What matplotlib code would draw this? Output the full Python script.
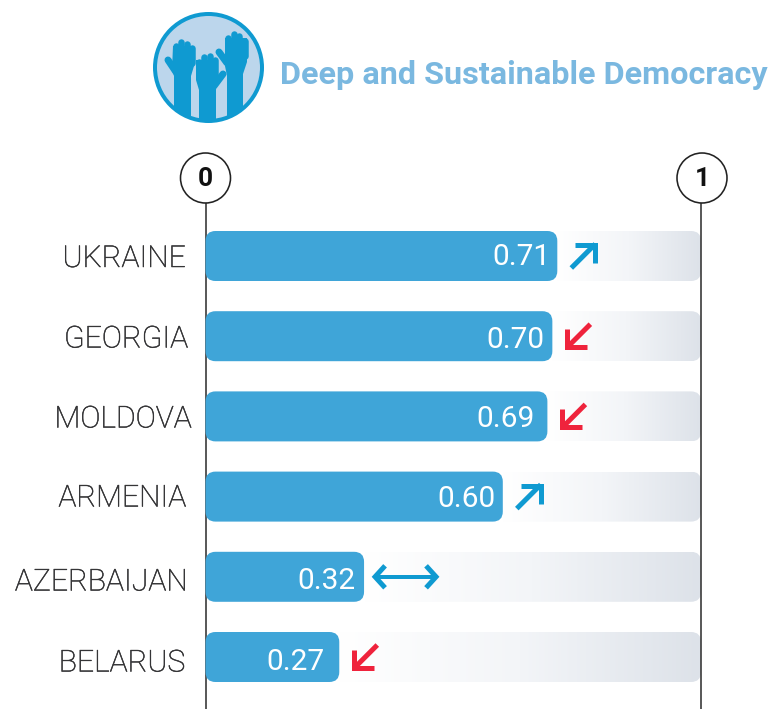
import numpy as np
import matplotlib
matplotlib.use('Agg')
import matplotlib.pyplot as plt
import matplotlib.patheffects as pe
from matplotlib.patches import FancyBboxPatch, Circle, Polygon
from matplotlib.colors import LinearSegmentedColormap

plt.rcParams['font.family'] = ['Roboto', 'DejaVu Sans']

# data
countries = ['UKRAINE', 'GEORGIA', 'MOLDOVA', 'ARMENIA', 'AZERBAIJAN', 'BELARUS']
scores = [0.71, 0.70, 0.69, 0.60, 0.32, 0.27]
score_labels = ['0.71', '0.70', '0.69', '0.60', '0.32', '0.27']
trends = ['up', 'down', 'down', 'up', 'same', 'down']
title = 'Deep and Sustainable Democracy'

W, H = 773, 709
X0, X1 = 205.5, 701.0     # pixel x of 0 and 1
Y0, DY = 256.0, 80.2      # pixel y of first row, row spacing
BAR_H = 50 / DY
BLUE = '#3fa5d8'
ARROW_BLUE = '#0f9ad1'
RED = '#ef233c'
px = 72 / 100  # one pixel in points

fig = plt.figure(figsize=(W / 100, H / 100), dpi=100)

# main axes: x is the score, y is the row number
ax = fig.add_axes([0, 0, 1, 1])
ax.axis('off')

# overlay in pixel coordinates for the icon and other decoration
ov = fig.add_axes([0, 0, 1, 1], zorder=5)
ov.set_xlim(0, W)
ov.set_ylim(H, 0)
ov.axis('off')
ov.patch.set_alpha(0)

unit_x = X1 - X0
aspect = unit_x / DY
rnd = 10 / unit_x
cmap = LinearSegmentedColormap.from_list('track', ['#ffffff', '#f3f5f8', '#dde2e9'])
grad = np.linspace(0, 1, 256).reshape(1, -1)

# the value labels do not sit the same way in every bar
value_dx = [-6.5, -7.5, -12.5, -7.5, -8.5, -14.5]
value_dy = [1.5, 3.5, 2.5, 2.5, 4.5, 4.5]

for i, v in enumerate(scores):
    track = FancyBboxPatch((0, i - BAR_H / 2), 1, BAR_H, boxstyle=f'round,pad=0,rounding_size={rnd}',
                           mutation_aspect=aspect, fc='none', ec='none')
    ax.add_patch(track)
    im = ax.imshow(grad, extent=[v, 1, i + BAR_H / 2, i - BAR_H / 2], aspect='auto', cmap=cmap,
                   interpolation='bilinear', zorder=1)
    im.set_clip_path(track)
    ax.add_patch(FancyBboxPatch((0, i - BAR_H / 2), v, BAR_H, boxstyle=f'round,pad=0,rounding_size={rnd}',
                                mutation_aspect=aspect, fc=BLUE, ec='none', zorder=3))
    ax.text(v + value_dx[i] / unit_x, i + value_dy[i] / DY, score_labels[i], color='white', fontsize=21.5,
            ha='right', va='center', fontweight='normal', zorder=4)

# scale lines
ax.plot([0, 0], [(201 - Y0) / DY, (H - Y0) / DY], color='#333333', lw=1.6 * px, zorder=2)
ax.plot([1, 1], [(203 - Y0) / DY, (H - Y0) / DY], color='#333333', lw=1.6 * px, zorder=2)

ax.set_xlim(-X0 / unit_x, (W - X0) / unit_x)
ax.set_ylim((H - Y0) / DY, -Y0 / DY)

# country labels
label_right = [186, 188.5, 192, 186.5, 188, 185.5]
label_y = [259, 339.5, 419.5, 498.5, 582.5, 663.5]
for name, xr, yy in zip(countries, label_right, label_y):
    ov.text(xr, yy, name, fontsize=21.7, color='#333335', ha='right', va='center', fontweight='light',
            path_effects=[pe.withStroke(linewidth=0.35, foreground='#333335')])

# circles at both ends of the scale
for xc, lab in zip([205.5, 702], ['0', '1']):
    ov.add_patch(Circle((xc, 178), 25, fc='white', ec='#222222', lw=1.6 * px))
    ov.text(xc, 179, lab, fontsize=19, fontweight='bold', color='#111111', ha='center', va='center')

# trend arrows
for i, (v, t) in enumerate(zip(scores, trends)):
    xe = X0 + v * unit_x
    yc = Y0 + i * DY
    if t == 'up':
        ov.plot([xe + 14, xe + 38], [yc + 12, yc - 12], color=ARROW_BLUE, lw=5 * px, solid_capstyle='butt')
        ov.plot([xe + 18, xe + 38, xe + 38], [yc - 11, yc - 11, yc + 7], color=ARROW_BLUE, lw=5 * px,
                solid_joinstyle='miter', solid_capstyle='butt')
    elif t == 'down':
        ov.plot([xe + 38, xe + 16], [yc - 12, yc + 10], color=RED, lw=5 * px, solid_capstyle='butt')
        ov.plot([xe + 15, xe + 15, xe + 35], [yc - 7, yc + 11, yc + 11], color=RED, lw=5 * px,
                solid_joinstyle='miter', solid_capstyle='butt')
    else:
        ov.plot([xe + 10, xe + 73], [yc, yc], color=ARROW_BLUE, lw=4 * px, solid_capstyle='butt')
        ov.plot([xe + 21, xe + 11, xe + 21], [yc - 11, yc, yc + 11], color=ARROW_BLUE, lw=5 * px,
                solid_joinstyle='miter', solid_capstyle='butt')
        ov.plot([xe + 62, xe + 72, xe + 62], [yc - 11, yc, yc + 11], color=ARROW_BLUE, lw=5 * px,
                solid_joinstyle='miter', solid_capstyle='butt')

# icon: three raised hands in a circle
ov.add_patch(Circle((208.5, 67.5), 53.5, fc='#bcd6ec', ec=ARROW_BLUE, lw=4 * px, zorder=2))
clip = Circle((208.5, 67.5), 53.5, transform=ov.transData)
hand = ARROW_BLUE


def draw_hand(palm, fingers, finger_w, thumb):
    parts = [ov.add_patch(Polygon(palm, closed=True, fc=hand, ec='none', zorder=3))]
    for fx, fy in fingers:
        parts += ov.plot([fx, fx], [fy, fy + 15], color=hand, lw=finger_w * px, solid_capstyle='round', zorder=3)
    parts += ov.plot([thumb[0][0], thumb[1][0]], [thumb[0][1], thumb[1][1]], color=hand, lw=7 * px,
                     solid_capstyle='round', zorder=3)
    for p in parts:
        p.set_clip_path(clip)


draw_hand([(173, 46), (194, 46), (194, 66), (191, 76), (191, 122), (174, 122), (174, 76), (172, 70)],
          [(175.5, 46), (181, 42), (187, 44), (191.5, 48)], 6.5, [(168, 60), (176, 72)])
draw_hand([(196, 60), (217, 60), (217, 80), (216, 90), (216, 122), (199, 122), (199, 90), (196, 80)],
          [(198.5, 62), (204, 57), (209.5, 56), (214.5, 60)], 6.5, [(223, 74), (214, 86)])
draw_hand([(225, 38), (247, 38), (247, 62), (243, 74), (243, 122), (227, 122), (227, 76), (225, 66)],
          [(228, 38), (233.5, 34), (239, 36), (244.5, 41)], 6.5, [(219, 52), (227, 63)])

ov.text(279.5, 75, title, fontsize=23.3, fontweight='bold', color='#7ab8e0', ha='left', va='center')

fig.savefig('out.png', dpi=100)
